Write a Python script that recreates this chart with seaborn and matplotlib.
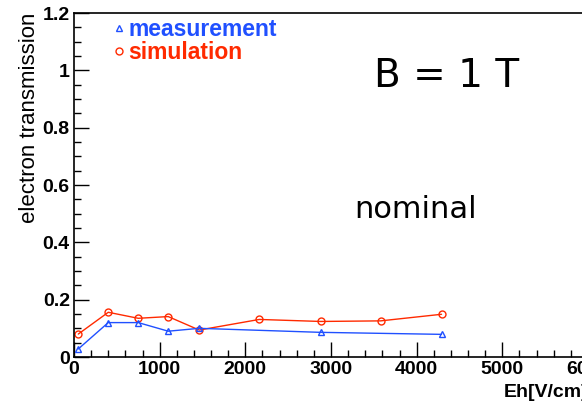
import pandas as pd
import matplotlib.pyplot as plt
import seaborn as sns
from matplotlib.lines import Line2D
from matplotlib.ticker import MultipleLocator

# Eh field values [V/cm] and electron transmission
eh_sim = [50, 400, 750, 1100, 1462, 2163, 2878, 3578, 4290]
sim = [0.080, 0.156, 0.135, 0.141, 0.094, 0.131, 0.124, 0.126, 0.149]
eh_meas = [50, 400, 750, 1100, 1462, 2878, 4290]
meas = [0.028, 0.120, 0.120, 0.090, 0.100, 0.086, 0.079]

BLUE = '#2050ff'
RED = '#ff2a00'

sns.set_style("white")
plt.rcParams['font.family'] = ['Liberation Sans', 'DejaVu Sans']
plt.rcParams['text.color'] = 'black'
plt.rcParams['axes.labelcolor'] = 'black'
plt.rcParams['xtick.color'] = 'black'
plt.rcParams['ytick.color'] = 'black'

df_sim = pd.DataFrame({'Eh': eh_sim, 'T': sim})
df_meas = pd.DataFrame({'Eh': eh_meas, 'T': meas})

fig = plt.figure(figsize=(5.82, 4.01), dpi=100)
ax = fig.add_axes([74 / 582, 44 / 401, 514 / 582, 344 / 401])

sns.lineplot(data=df_sim, x='Eh', y='T', ax=ax, color=RED, lw=1, sort=False,
             marker='o', ms=5, mfc='none', mec=RED, mew=1)
sns.lineplot(data=df_meas, x='Eh', y='T', ax=ax, color=BLUE, lw=1, sort=False,
             marker='^', ms=5, mfc='none', mec=BLUE, mew=1)

ax.set_xlim(0, 6000)
ax.set_ylim(0, 1.2)
ax.xaxis.set_minor_locator(MultipleLocator(200))
ax.yaxis.set_minor_locator(MultipleLocator(0.05))
ax.set_yticks([0, 0.2, 0.4, 0.6, 0.8, 1.0, 1.2])
ax.set_yticklabels(['0', '0.2', '0.4', '0.6', '0.8', '1', '1.2'])
ax.set_xticks([0, 1000, 2000, 3000, 4000, 5000, 6000])
ax.set_xticklabels(['0', '1000', '2000', '3000', '4000', '5000', '6000'])

ax.tick_params(which='both', direction='in', top=False, right=False,
               left=True, bottom=True, width=1, color='black')
ax.tick_params(which='major', length=11, labelsize=14, pad=3)
ax.tick_params(which='minor', length=5)
for lab in ax.get_xticklabels() + ax.get_yticklabels():
    lab.set_fontweight('bold')

for s in ['left', 'bottom', 'top']:
    ax.spines[s].set_color('black')
    ax.spines[s].set_linewidth(1.2)
ax.spines['right'].set_visible(False)

ax.set_ylabel('electron transmission', fontsize=16, loc='top', labelpad=2)
ax.set_xlabel('Eh[V/cm]', fontsize=14, fontweight='bold', loc='right', labelpad=4)

handles = [Line2D([], [], ls='none', marker='^', ms=5, mfc='none', mec=BLUE),
           Line2D([], [], ls='none', marker='o', ms=5, mfc='none', mec=RED)]
ax.legend(handles, ['measurement', 'simulation'], loc='upper left',
          bbox_to_anchor=(101 / 582, 1 - 7 / 401), bbox_transform=fig.transFigure,
          frameon=False, handlelength=0.6, handletextpad=0.1, labelspacing=0.0,
          borderpad=0, labelcolor=[BLUE, RED],
          prop={'weight': 'bold', 'size': 16.5})

fig.text(447 / 582, 1 - 76 / 401, 'B = 1 T', fontsize=28, family='DejaVu Sans',
         ha='center', va='center')
fig.text(416 / 582, 1 - 218 / 401, 'nominal', fontsize=22, family='DejaVu Sans',
         ha='center', va='baseline')

fig.savefig('out.png', dpi=100)
